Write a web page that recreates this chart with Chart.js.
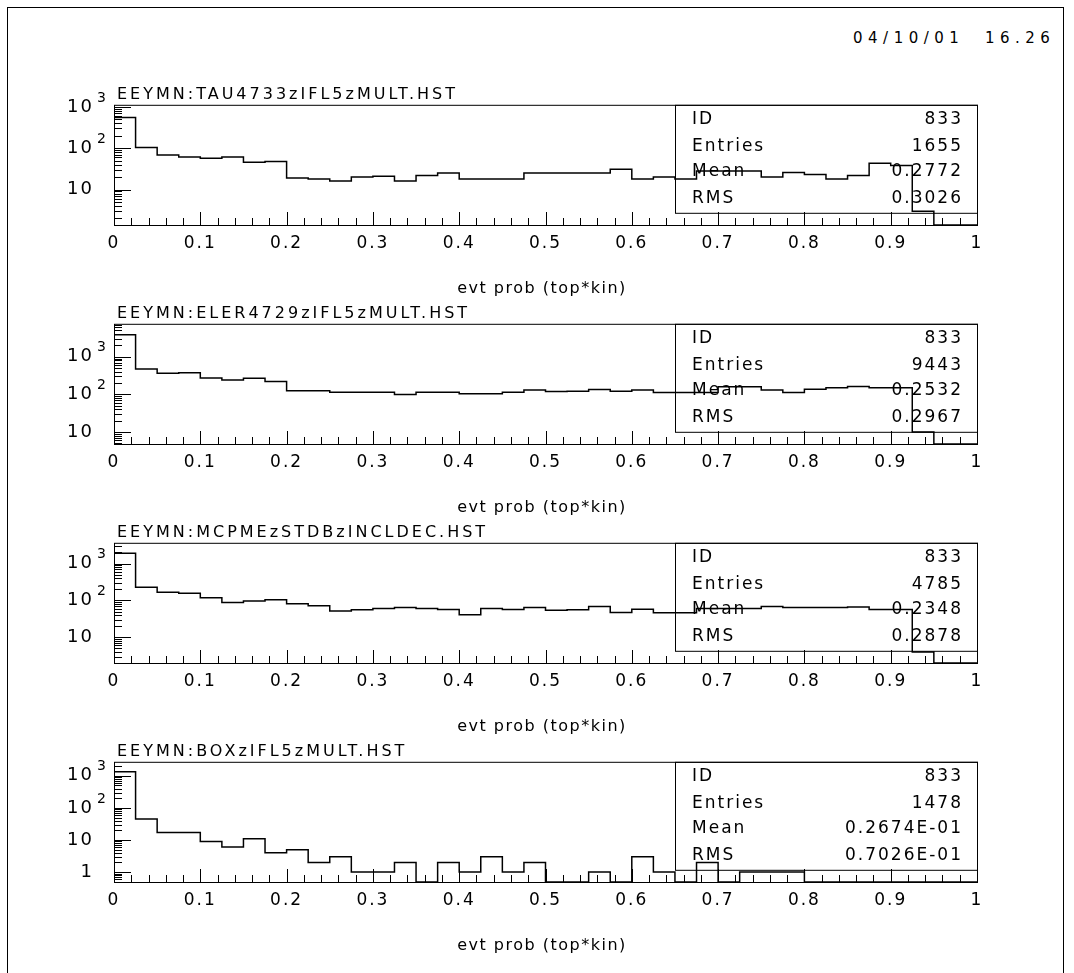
<!DOCTYPE html>
<html>
<head>
<meta charset="utf-8">
<script src="https://cdn.jsdelivr.net/npm/chart.js@4.4.0/dist/chart.umd.min.js"></script>
<style>
  html, body { margin: 0; padding: 0; background: #fff; }
  #page { position: relative; width: 1074px; height: 973px; overflow: hidden; }
  #frame { position: absolute; left: 7px; top: 7px; width: 1055px; height: 1000px; border: 1px solid #000; }
  #stamp { position: absolute; left: 853px; top: 29px; font: 15px "DejaVu Sans"; letter-spacing: 5.5px; white-space: pre; color: #000; }
  canvas { position: absolute; left: 0; }
</style>
</head>
<body>
<div id="page">
  <div id="frame"></div>
  <div id="stamp">04/10/01  16.26</div>
</div>
<script>
// bin edges of evt prob, 40 bins of 0.025
const binEdges = [0, 0.025, 0.05, 0.075, 0.1, 0.125, 0.15, 0.175, 0.2, 0.225,
  0.25, 0.275, 0.3, 0.325, 0.35, 0.375, 0.4, 0.425, 0.45, 0.475,
  0.5, 0.525, 0.55, 0.575, 0.6, 0.625, 0.65, 0.675, 0.7, 0.725,
  0.75, 0.775, 0.8, 0.825, 0.85, 0.875, 0.9, 0.925, 0.95, 0.975, 1];

// counts per bin
const tauCounts = [556, 104, 69, 61, 57, 61, 46, 48, 19, 18, 16, 20, 21, 16, 22, 25, 18, 18, 18, 25,
  25, 25, 25, 31, 18, 20, 18, 28, 28, 28, 20, 26, 23, 18, 22, 43, 38, 3, 0, 0];
const elerCounts = [3860, 474, 364, 375, 275, 243, 268, 220, 125, 125, 115, 115, 115, 100, 115, 115, 104, 104, 115, 131,
  120, 122, 135, 122, 131, 113, 113, 113, 160, 160, 131, 113, 138, 150, 162, 150, 150, 10, 0, 0];
const mcpmeCounts = [1900, 228, 167, 157, 118, 88, 96, 104, 81, 72, 52, 56, 60, 64, 60, 57, 41, 60, 57, 64,
  54, 56, 69, 47, 58, 46, 46, 60, 60, 60, 69, 64, 64, 64, 66, 57, 57, 4, 0, 0];
const boxCounts = [1336, 45, 17, 17, 9, 6, 11, 4, 5, 2, 3, 1, 1, 2, 0, 2, 1, 3, 1, 2,
  0, 0, 1, 0, 3, 1, 0, 2, 0, 1, 1, 1, 0, 0, 0, 0, 0, 0, 0, 0];

const histTitles = ["EEYMN:TAU4733zIFL5zMULT.HST", "EEYMN:ELER4729zIFL5zMULT.HST",
  "EEYMN:MCPMEzSTDBzINCLDEC.HST", "EEYMN:BOXzIFL5zMULT.HST"];
const histIds = ["833", "833", "833", "833"];
const histEntries = ["1655", "9443", "4785", "1478"];
const histMeans = ["0.2772", "0.2532", "0.2348", "0.2674E-01"];
const histRms = ["0.3026", "0.2967", "0.2878", "0.7026E-01"];

const yMins = [1.39, 4.83, 2.01, 0.49];
const yMaxs = [1122, 7516, 3656, 2735];

const xTickValues = [0, 0.1, 0.2, 0.3, 0.4, 0.5, 0.6, 0.7, 0.8, 0.9, 1];
const xTickLabels = ["0", "0.1", "0.2", "0.3", "0.4", "0.5", "0.6", "0.7", "0.8", "0.9", "1"];
const yTickValues = [1, 10, 100, 1000];
const yTickBase = ["1", "10", "10", "10"];
const yTickExp = ["", "", "2", "3"];
const xTitle = "evt prob (top*kin)";

const seriesList = [tauCounts, elerCounts, mcpmeCounts, boxCounts];
const frameTops = [104, 323, 542, 761];
const FONT = '"DejaVu Sans"';

// PAW style frame, ticks, stats box and texts
const pawPlugin = {
  id: "paw",
  beforeDraw(chart) {
    chart.ctx.letterSpacing = "2px";
  },
  afterDraw(chart) {
    const idx = chart.options.plugins.paw.index;
    const ctx = chart.ctx;
    const a = chart.chartArea;
    const xs = chart.scales.x, ys = chart.scales.y;
    ctx.save();
    ctx.strokeStyle = "#000";
    ctx.fillStyle = "#000";
    ctx.lineWidth = 1;
    ctx.strokeRect(a.left + 0.5, a.top + 0.5, a.right - a.left, a.bottom - a.top);

    ctx.beginPath();
    for (let i = 0; i <= 50; i++) {
      const px = Math.round(xs.getPixelForValue(i / 50)) + 0.5;
      const len = i % 5 === 0 ? 13 : 7;
      ctx.moveTo(px, a.bottom);
      ctx.lineTo(px, a.bottom - len);
    }
    const lo = Math.floor(Math.log10(ys.min)), hi = Math.ceil(Math.log10(ys.max));
    for (let d = lo; d <= hi; d++) {
      for (let k = 1; k <= 9; k++) {
        const v = k * Math.pow(10, d);
        if (v < ys.min || v > ys.max) continue;
        const py = Math.round(ys.getPixelForValue(v)) + 0.5;
        ctx.moveTo(a.left, py);
        ctx.lineTo(a.left + (k === 1 ? 17 : 8), py);
      }
    }
    ctx.stroke();

    // exponents of the y labels
    ctx.font = "14px " + FONT;
    ctx.letterSpacing = "1px";
    ctx.textAlign = "left";
    ctx.textBaseline = "middle";
    yTickValues.forEach((v, i) => {
      if (!yTickExp[i] || v < ys.min || v > ys.max) return;
      ctx.fillText(yTickExp[i], a.left - 17, ys.getPixelForValue(v) - 9);
    });

    // title
    ctx.font = "16px " + FONT;
    ctx.letterSpacing = "3px";
    ctx.textBaseline = "alphabetic";
    ctx.fillText(histTitles[idx], a.left + 3, a.top - 6);

    // axis title
    ctx.letterSpacing = "1.5px";
    ctx.textAlign = "center";
    ctx.textBaseline = "middle";
    ctx.fillText(xTitle, 542, a.bottom + 64);

    // stats box
    const bx = 675;
    ctx.strokeRect(bx + 0.5, a.top + 0.5, a.right - bx, 108);
    ctx.font = "17px " + FONT;
    ctx.letterSpacing = "2px";
    const rows = [["ID", histIds[idx]], ["Entries", histEntries[idx]],
      ["Mean", histMeans[idx]], ["RMS", histRms[idx]]];
    const rowY = [15, 42, 67, 94];
    rows.forEach((r, i) => {
      ctx.textAlign = "left";
      ctx.fillText(r[0], 692, a.top + rowY[i]);
      ctx.textAlign = "right";
      ctx.fillText(r[1], 963, a.top + rowY[i]);
    });
    ctx.restore();
  }
};

const page = document.getElementById("page");

function makePanel(idx) {
  const canvas = document.createElement("canvas");
  canvas.width = 1074;
  canvas.height = 250;
  canvas.style.top = (frameTops[idx] - 30) + "px";
  page.appendChild(canvas);

  const counts = seriesList[idx];
  const floor = yMins[idx];
  const points = binEdges.map((x, i) => {
    const c = counts[Math.min(i, counts.length - 1)];
    return { x: x, y: c > 0 ? c : floor };
  });

  new Chart(canvas.getContext("2d"), {
    type: "line",
    data: {
      datasets: [{
        data: points,
        stepped: true,
        borderColor: "#000",
        borderWidth: 1.5,
        pointRadius: 0,
        fill: false
      }]
    },
    plugins: [pawPlugin],
    options: {
      responsive: false,
      animation: false,
      devicePixelRatio: 1,
      events: [],
      layout: { padding: { left: 0, right: 97, top: 30, bottom: 0 } },
      plugins: {
        legend: { display: false },
        tooltip: { enabled: false },
        paw: { index: idx }
      },
      scales: {
        x: {
          type: "linear",
          min: 0,
          max: 1,
          afterBuildTicks: (s) => { s.ticks = xTickValues.map((v) => ({ value: v })); },
          afterFit: (s) => { s.height = 250 - 30 - 121; },
          grid: { display: false, drawTicks: false },
          border: { display: false },
          ticks: {
            autoSkip: false,
            maxRotation: 0,
            padding: 8,
            color: "#000",
            font: { family: "DejaVu Sans", size: 17 },
            callback: (v, i) => xTickLabels[i]
          }
        },
        y: {
          type: "logarithmic",
          min: yMins[idx],
          max: yMaxs[idx],
          afterBuildTicks: (s) => {
            s.ticks = yTickValues.filter((v) => v >= s.min && v <= s.max).map((v) => ({ value: v }));
          },
          afterFit: (s) => { s.width = 114; },
          grid: { display: false, drawTicks: false },
          border: { display: false },
          ticks: {
            padding: 20,
            color: "#000",
            font: { family: "DejaVu Sans", size: 18 },
            callback: (v) => yTickBase[yTickValues.indexOf(v)]
          }
        }
      }
    }
  });
}

for (let i = 0; i < 4; i++) makePanel(i);
</script>
</body>
</html>
